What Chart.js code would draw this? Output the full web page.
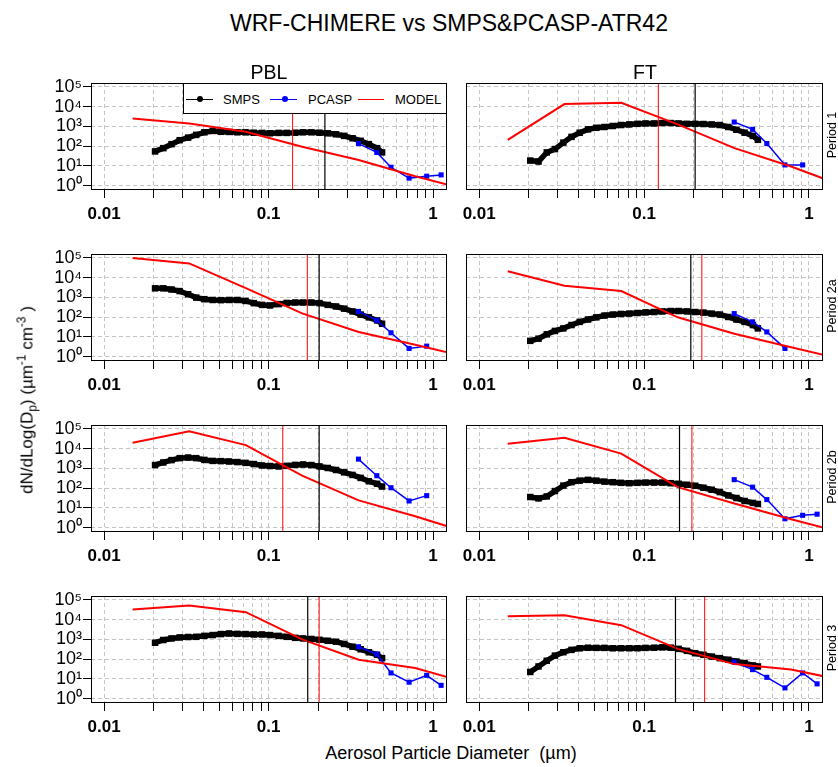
<!DOCTYPE html>
<html><head><meta charset="utf-8">
<script src="https://cdn.jsdelivr.net/npm/chart.js@4.4.1/dist/chart.umd.min.js"></script>
<style>
html,body{margin:0;padding:0;background:#fff;}
body{width:838px;height:767px;position:relative;overflow:hidden;font-family:"Liberation Sans",Arial,sans-serif;color:#000;}
canvas{position:absolute;}
.t{position:absolute;white-space:pre;transform:translate(-50%,-50%);line-height:1;z-index:5;}
.r{transform:translate(-50%,-50%) rotate(-90deg);}
#legend{position:absolute;left:183px;top:83px;width:262px;height:29px;border:1px solid #000;background:#fff;z-index:6;font-size:13px;}
#legend .ln{position:absolute;top:15px;height:0;border-top-width:1.5px;border-top-style:solid;}
#legend .dot{position:absolute;top:12px;width:6px;height:6px;border-radius:50%;}
#legend .lt{position:absolute;top:9px;line-height:1;}
sub,sup{font-size:70%;line-height:0;}
</style></head>
<body>
<script>
// ---------- DATA ----------
const smpsDiam = [0.0204,0.0229,0.0257,0.0288,0.0324,0.0363,0.0407,0.0457,0.0513,0.0575,0.0646,0.0724,0.0813,0.0912,0.102,0.115,0.129,0.145,0.162,0.182,0.204,0.229,0.257,0.288,0.324,0.363,0.407,0.457,0.490];
const pcaspDiam = [0.352,0.455,0.555,0.715,0.915,1.12];
const modelDiam = [0.0149,0.0329,0.0727,0.160,0.353,0.779,1.72];

// PBL (left column)
const smpsPBL1  = [54,79,126,200,269,372,501,589,537,525,501,501,479,468,447,468,468,479,501,501,479,447,398,331,251,186,126,79,48];
const pcaspPBL1 = [135,48,8.5,2.4,3.0,3.5];
const modelPBL1 = [2500,1400,540,93,20,3.0,0.54];

const smpsPBL2a  = [2880,2880,2510,2090,1445,977,813,741,724,741,741,661,513,417,389,457,525,550,550,550,513,417,347,269,195,135,98,68,46];
const pcaspPBL2a = [195,69,16.2,2.6,3.4,null];
const modelPBL2a = [100000,52500,2950,155,17.8,4.0,0.85];

const smpsPBL2b  = [1480,2000,2630,3310,3550,3310,2690,2400,2340,2240,2090,1905,1660,1410,1320,1260,1350,1510,1585,1480,1260,1050,832,631,468,331,224,166,120];
const pcaspPBL2b = [2950,427,105,22.4,41.7,null];
const modelPBL2b = [20000,75900,15100,427,24,3.8,0.48];

const smpsPBL3  = [676,933,1120,1260,1320,1350,1510,1660,1860,2000,1905,1860,1780,1780,1660,1510,1350,1200,1120,1050,955,851,759,589,427,316,224,166,112];
const pcaspPBL3 = [427,178,20,6.8,15.1,4.7];
const modelPBL3 = [33100,52500,24000,1000,93,35.5,5.6];

// FT (right column)
const smpsFT1  = [18.6,16.6,48,71,151,295,479,708,851,933,1050,1175,1260,1350,1410,1410,1480,1480,1410,1350,1350,1320,1260,1175,933,676,479,331,209];
const pcaspFT1 = [1660,708,135,11.2,11.2,null];
const modelFT1 = [209,13500,15800,1260,79,9.3,0.79];

const smpsFT2a  = [6.3,8.1,13.5,20,26.9,39.8,57.5,75.9,97.7,120,135,145,151,162,174,182,195,204,204,195,182,170,151,135,102,75.9,57.5,39.8,26.9];
const pcaspFT2a = [151,58,17.8,2.6,null,null];
const modelFT2a = [20900,3890,2090,98,14.5,2.95,0.63];

const smpsFT2b  = [35.5,30.2,38,71,135,200,240,263,240,214,200,186,178,186,191,191,191,178,166,148,132,105,83,63,42.7,31.6,22.4,17.8,15.8];
const pcaspFT2b = [269,112,26.3,2.8,4.2,4.8];
const modelFT2b = [17800,35500,5620,112,16.6,2.63,0.48];

const smpsFT3  = [22.4,42.7,83,151,224,295,355,380,372,372,355,355,355,355,372,380,398,380,331,263,200,166,135,112,93,76,63,48,42.7];
const pcaspFT3 = [71,29.5,12,3.5,20,5.6];
const modelFT3 = [15100,16600,5250,331,56,29.5,7.6];

// cut-off diameters (vertical lines): red and black, per period
const redCutPBL   = [0.140,0.172,0.122,0.203];
const blackCutPBL = [0.220,0.203,0.203,0.173];
const redCutFT    = [0.122,0.224,0.195,0.233];
const blackCutFT  = [0.204,0.192,0.164,0.155];

const periodLabels = ['Period 1','Period 2a','Period 2b','Period 3'];
const columnLabels = ['PBL','FT'];
const xTickValues = [0.01,0.02,0.03,0.04,0.05,0.06,0.07,0.08,0.09,0.1,0.2,0.3,0.4,0.5,0.6,0.7,0.8,0.9,1];
const xTickLabels = {'0.01':'0.01','0.1':'0.1','1':'1'};
const yTickValues = [1,10,100,1000,10000,100000];
const yTickLabels = ['10⁰','10¹','10²','10³','10⁴','10⁵'];

// ---------- LAYOUT ----------
const X_MIN = 0.00832, X_MAX = 1.216;
const Y_MIN = 0.631, Y_MAX = 158000;
const FONT = '"Liberation Sans", Arial, sans-serif';
const rowTops = [83,254,425,596];
const boxH = 107;
const PADTOP = 12, XAXIS_H = 40;

const panels = [
  {col:0,row:0,smps:smpsPBL1,pcasp:pcaspPBL1,model:modelPBL1,red:redCutPBL[0],black:blackCutPBL[0]},
  {col:1,row:0,smps:smpsFT1,pcasp:pcaspFT1,model:modelFT1,red:redCutFT[0],black:blackCutFT[0]},
  {col:0,row:1,smps:smpsPBL2a,pcasp:pcaspPBL2a,model:modelPBL2a,red:redCutPBL[1],black:blackCutPBL[1]},
  {col:1,row:1,smps:smpsFT2a,pcasp:pcaspFT2a,model:modelFT2a,red:redCutFT[1],black:blackCutFT[1]},
  {col:0,row:2,smps:smpsPBL2b,pcasp:pcaspPBL2b,model:modelPBL2b,red:redCutPBL[2],black:blackCutPBL[2]},
  {col:1,row:2,smps:smpsFT2b,pcasp:pcaspFT2b,model:modelFT2b,red:redCutFT[2],black:blackCutFT[2]},
  {col:0,row:3,smps:smpsPBL3,pcasp:pcaspPBL3,model:modelPBL3,red:redCutPBL[3],black:blackCutPBL[3]},
  {col:1,row:3,smps:smpsFT3,pcasp:pcaspFT3,model:modelFT3,red:redCutFT[3],black:blackCutFT[3]}
];

function pts(xs, ys){ return xs.map((x,i)=>({x:x, y:ys[i]})); }

const boxPlugin = {
  id:'box',
  afterDraw(chart){
    const a = chart.chartArea, c = chart.ctx;
    c.save(); c.strokeStyle='#000'; c.lineWidth=1;
    c.strokeRect(Math.round(a.left)+0.5, Math.round(a.top)+0.5, Math.round(a.right-a.left)-1, Math.round(a.bottom-a.top)-1);
    c.restore();
  }
};

panels.forEach((p, k)=>{
  const left = p.col===0;
  const cv = document.createElement('canvas');
  const cw = left ? 452 : 386;
  const ch = PADTOP + boxH + XAXIS_H;
  cv.width = cw; cv.height = ch;
  cv.style.left = (left ? 0 : 452) + 'px';
  cv.style.top = (rowTops[p.row] - PADTOP) + 'px';
  cv.style.width = cw+'px'; cv.style.height = ch+'px';
  document.body.appendChild(cv);
  new Chart(cv.getContext('2d'), {
    type:'line',
    data:{datasets:[
      {label:'cut red', data:[{x:p.red,y:Y_MIN},{x:p.red,y:Y_MAX}], borderColor:'#ff0000', borderWidth:1, pointRadius:0},
      {label:'cut black', data:[{x:p.black,y:Y_MIN},{x:p.black,y:Y_MAX}], borderColor:'#000000', borderWidth:1.2, pointRadius:0},
      {label:'MODEL', data:pts(modelDiam,p.model), borderColor:'#ff0000', borderWidth:2, pointRadius:0, tension:0},
      {label:'PCASP', data:pts(pcaspDiam,p.pcasp), borderColor:'#0000ff', borderWidth:1.5, pointStyle:'rect', pointRadius:3.6, pointBackgroundColor:'#0000ff', pointBorderColor:'#0000ff', pointBorderWidth:0, spanGaps:false},
      {label:'SMPS', data:pts(smpsDiam,p.smps), borderColor:'#000000', borderWidth:5.5, pointStyle:'rect', pointRadius:4.6, pointBackgroundColor:'#000', pointBorderColor:'#000', pointBorderWidth:0}
    ]},
    options:{
      responsive:false, animation:false, devicePixelRatio:1,
      layout:{padding:{left:0,right:left?5:15,top:PADTOP,bottom:0}},
      plugins:{legend:{display:false}, tooltip:{enabled:false}},
      scales:{
        x:{type:'logarithmic', min:X_MIN, max:X_MAX,
           afterBuildTicks:s=>{ s.ticks = xTickValues.map(v=>({value:v})); },
           afterFit:s=>{ s.height = XAXIS_H; },
           ticks:{autoSkip:false, maxRotation:0, minRotation:0, padding:6, color:'#000',
                  font:{family:FONT, size:17, weight:'bold'},
                  callback:(v)=> xTickLabels[String(+(+v).toPrecision(3))] || ''},
           grid:{color:'#c4c4c4', lineWidth:1, tickLength:8, tickColor:'#000', tickWidth:1},
           border:{display:false, dash:[4,3]}
        },
        y:{type:'logarithmic', min:Y_MIN, max:Y_MAX,
           afterBuildTicks:s=>{ s.ticks = yTickValues.map(v=>({value:v})); },
           afterFit:s=>{ s.width = left ? 91 : 14; },
           ticks:{display:left, autoSkip:false, padding:1, color:'#000',
                  font:{family:FONT, size:18, lineHeight:1},
                  callback:(v)=> yTickLabels[Math.round(Math.log10(v))]},
           grid:{color:'#c4c4c4', lineWidth:1, drawTicks:left, tickLength:8, tickColor:'#000', tickWidth:1},
           border:{display:false, dash:[4,3]}
        }
      }
    },
    plugins:[boxPlugin]
  });
});

function addText(txt, x, y, size, extra){
  const d = document.createElement('div');
  d.className = 't' + (extra && extra.rot ? ' r' : '');
  d.style.left = x+'px'; d.style.top = y+'px'; d.style.fontSize = size+'px';
  if (extra && extra.html) d.innerHTML = txt; else d.textContent = txt;
  document.body.appendChild(d);
  return d;
}
addText('WRF-CHIMERE vs SMPS&PCASP-ATR42', 449, 23, 23);
addText(columnLabels[0], 269, 73, 19.5);
addText(columnLabels[1], 645, 73, 19.5);
periodLabels.forEach((t,i)=> addText(t, 832, rowTops[i] + 52, 12.5, {rot:true}));
addText('Aerosol Particle Diameter  (µm)', 451, 753, 18);
addText('dN/dLog(D<sub>p</sub>) (µm<sup>-1</sup> cm<sup>-3</sup> )', 27, 400, 17, {rot:true, html:true});

// legend
const lg = document.createElement('div'); lg.id='legend';
lg.innerHTML =
  '<div class="ln" style="left:2px;width:27px;border-top-color:#000"></div><div class="dot" style="left:13px;background:#000"></div><div class="lt" style="left:39px">SMPS</div>'+
  '<div class="ln" style="left:86px;width:27px;border-top-color:#00f"></div><div class="dot" style="left:98px;background:#00f"></div><div class="lt" style="left:124px">PCASP</div>'+
  '<div class="ln" style="left:174px;width:26px;border-top-color:#f00"></div><div class="lt" style="left:211px">MODEL</div>';
document.body.appendChild(lg);
</script>
</body></html>
